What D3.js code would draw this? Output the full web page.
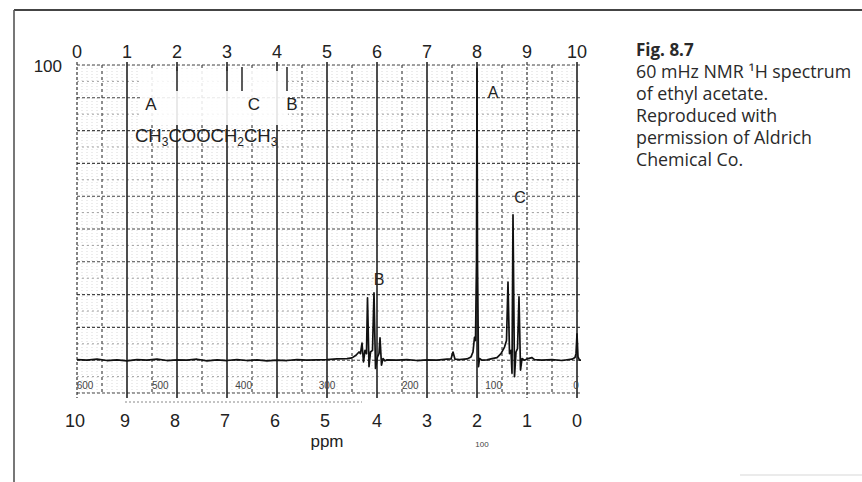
<!DOCTYPE html>
<html>
<head>
<meta charset="utf-8">
<script src="https://d3js.org/d3.v7.min.js"></script>
<style>
	body { margin: 0; background: #fff; }
	svg { display: block; }
	text { font-family: "Liberation Sans", Arial, sans-serif; fill: #222; }
	text.cap, text.fig { font-family: "Open Sans", sans-serif; fill: #2a2a2a; }
</style>
</head>
<body>
<svg id="chart"></svg>
<script type="text/javascript">

	// ---- data ----
	let ppmTicks = [10, 9, 8, 7, 6, 5, 4, 3, 2, 1, 0]
	let topTicks = [0, 1, 2, 3, 4, 5, 6, 7, 8, 9, 10]
	let hzValues = [600, 500, 400, 300, 200, 100, 0]
	let hzLabels = ["600", "500", "400", "300", "200", "100", "0"]

	// spectrum trace: chemical shift (ppm) and intensity (% of full scale)
	let tracePpm = [10.0, 9.8, 9.6, 9.4, 9.2, 9.0, 8.8, 8.6, 8.4, 8.2, 8.0, 7.8, 7.6, 7.4, 7.2, 7.0,
		6.8, 6.6, 6.4, 6.2, 6.0, 5.8, 5.6, 5.4, 5.2, 5.0, 4.8, 4.6, 4.5, 4.42, 4.36,
		4.33, 4.30, 4.27, 4.24, 4.21, 4.19, 4.16, 4.13, 4.09, 4.06, 4.03, 3.99, 3.96, 3.94, 3.91, 3.88, 3.84, 3.8,
		3.6, 3.4, 3.2, 3.0, 2.8, 2.6, 2.52, 2.48, 2.44, 2.35, 2.2, 2.12, 2.08, 2.05, 2.03, 2.01, 2.0, 1.99, 1.97, 1.95,
		1.9, 1.8, 1.7, 1.6, 1.52, 1.45, 1.41, 1.38, 1.35, 1.32, 1.30, 1.28, 1.25, 1.22, 1.19, 1.16, 1.13, 1.1,
		1.05, 1.0, 0.9, 0.85, 0.7, 0.5, 0.3, 0.1, 0.04, 0.02, 0.0, -0.02, -0.05, -0.08]
	let traceInt = [10.2, 10.0, 10.3, 9.9, 10.1, 9.8, 10.2, 10.0, 10.3, 9.9, 10.1, 10.0, 10.3, 9.8, 10.1, 9.9,
		10.2, 9.9, 10.1, 9.8, 10.0, 9.9, 10.2, 10.0, 10.1, 10.2, 10.4, 10.5, 10.7, 11.5, 12.5,
		12.0, 15.2, 9.5, 13.0, 12.0, 29.0, 8.0, 12.5, 13.0, 30.5, 7.5, 11.0, 12.0, 16.8, 8.5, 10.5, 9.8, 10.1,
		10.0, 10.2, 9.9, 10.1, 10.0, 10.3, 10.4, 12.5, 10.3, 10.2, 10.4, 11.0, 12.5, 17.0, 16.0, 40.0, 99.0, 40.0, 8.0, 10.5,
		10.0, 10.1, 10.5, 10.8, 12.0, 14.0, 16.0, 33.8, 12.0, 13.0, 6.0, 54.3, 5.0, 12.5, 13.5, 29.3, 7.0, 10.5,
		10.0, 10.4, 10.8, 10.2, 10.0, 10.2, 9.9, 10.3, 10.8, 12.0, 18.0, 11.0, 10.0, 10.0]

	// peak labels
	let peakText = ["A", "B", "C"]
	let peakPpm = [1.68, 3.96, 1.14]
	let peakVal = [90, 33, 58]

	// structure labels over the formula
	let structText = ["A", "C", "B"]
	let structPpm = [8.52, 6.46, 5.70]
	let structVal = [86.3, 86.3, 86.3]

	let caption = ["60 mHz NMR ¹H spectrum", "of ethyl acetate.", "Reproduced with",
		"permission of Aldrich", "Chemical Co."]

	// ---- sizes ----
	let width = 862
	let height = 482
	let plotLeft = 77
	let plotRight = 577
	let plotTop = 65
	let plotBottom = 393

	let svg = d3.select("#chart")
		.attr("width", width)
		.attr("height", height)

	let x = d3.scaleLinear().domain([10, 0]).range([plotLeft, plotRight])
	let xTop = d3.scaleLinear().domain([0, 10]).range([plotLeft, plotRight])
	let xHz = d3.scaleLinear().domain([600, 0]).range([plotLeft, plotRight])
	let y = d3.scaleLinear().domain([0, 100]).range([plotBottom, plotTop])

	// page frame
	svg.append("line").attr("x1", 14).attr("x2", width).attr("y1", 10).attr("y2", 10)
		.attr("stroke", "#444").attr("stroke-width", 2)
	svg.append("line").attr("x1", 14).attr("x2", 14).attr("y1", 10).attr("y2", height)
		.attr("stroke", "#555").attr("stroke-width", 1.6)
	svg.append("line").attr("x1", 740).attr("x2", width).attr("y1", 475).attr("y2", 475)
		.attr("stroke", "#e4e4e4").attr("stroke-width", 1.5)

	let grid = svg.append("g")

	// fine vertical chart paper lines
	grid.selectAll("line.vfine")
		.data(d3.range(0, 101).map(function(i){ return i / 10 }).filter(function(d){ return Math.round(d * 10) % 5 != 0 }))
		.join("line")
		.attr("class", "vfine")
		.attr("x1", function(d){ return x(d) }).attr("x2", function(d){ return x(d) })
		.attr("y1", plotTop).attr("y2", plotBottom)
		.attr("stroke", "#cfcfcf").attr("stroke-width", 0.8).attr("stroke-dasharray", "1,2")

	// fine horizontal lines
	grid.selectAll("line.hfine")
		.data(d3.range(5, 100, 10))
		.join("line")
		.attr("class", "hfine")
		.attr("x1", plotLeft).attr("x2", plotRight + 3)
		.attr("y1", function(d){ return y(d) }).attr("y2", function(d){ return y(d) })
		.attr("stroke", "#999").attr("stroke-width", 0.9).attr("stroke-dasharray", "2,3")

	// major horizontal lines every 10%
	grid.selectAll("line.hmaj")
		.data(d3.range(0, 101, 10))
		.join("line")
		.attr("class", "hmaj")
		.attr("x1", plotLeft).attr("x2", plotRight + 3)
		.attr("y1", function(d){ return y(d) }).attr("y2", function(d){ return y(d) })
		.attr("stroke", "#444").attr("stroke-width", 1.1).attr("stroke-dasharray", "3,2")

	// half ppm lines, dashed
	grid.selectAll("line.vhalf")
		.data(d3.range(0.5, 10, 1))
		.join("line")
		.attr("class", "vhalf")
		.attr("x1", function(d){ return x(d) }).attr("x2", function(d){ return x(d) })
		.attr("y1", plotTop).attr("y2", plotBottom)
		.attr("stroke", "#444").attr("stroke-width", 1.2).attr("stroke-dasharray", "3,3")

	// whole ppm lines
	grid.selectAll("line.vmaj")
		.data(ppmTicks)
		.join("line")
		.attr("class", "vmaj")
		.attr("x1", function(d){ return x(d) }).attr("x2", function(d){ return x(d) })
		.attr("y1", plotTop - 3).attr("y2", plotBottom + 5)
		.attr("stroke", "#222").attr("stroke-width", function(d){ return d == 10 || d == 1 ? 1.1 : 1.6 })
		.attr("stroke-dasharray", function(d){ return d == 10 || d == 1 ? "3,2" : null })

	// erased patch behind the formula
	svg.append("rect").attr("x", 140).attr("y", 71).attr("width", 148).attr("height", 54)
		.attr("fill", "#fff").attr("opacity", 0.88)

	// short marks of the top scale
	let topMarks = [2, 3, 3.3, 4.2]
	svg.selectAll("line.tmark")
		.data(topMarks)
		.join("line")
		.attr("class", "tmark")
		.attr("x1", function(d){ return xTop(d) }).attr("x2", function(d){ return xTop(d) })
		.attr("y1", plotTop + 2).attr("y2", plotTop + 26)
		.attr("stroke", "#333").attr("stroke-width", 1.6)

	// Hz scale line under the plot
	svg.append("line").attr("x1", 125).attr("x2", 362).attr("y1", 402).attr("y2", 402)
		.attr("stroke", "#888").attr("stroke-width", 1).attr("stroke-dasharray", "2,2")

	// spectrum trace
	let trace = tracePpm.map(function(d, i){ return { ppm: d, v: traceInt[i] } })
	let lineGenerator = d3.line()
		.x(function(d){ return x(d.ppm) })
		.y(function(d){ return y(d.v) })
	svg.append("path")
		.datum(trace)
		.attr("d", lineGenerator)
		.attr("fill", "none")
		.attr("stroke", "#111")
		.attr("stroke-width", 1.7)
		.attr("stroke-linejoin", "round")

	// axes labels
	svg.selectAll("text.top")
		.data(topTicks)
		.join("text")
		.attr("class", "top")
		.attr("x", function(d){ return xTop(d) })
		.attr("y", 58)
		.attr("text-anchor", "middle")
		.style("font-size", "18px")
		.text(function(d){ return d })

	svg.selectAll("text.bottom")
		.data(ppmTicks)
		.join("text")
		.attr("class", "bottom")
		.attr("x", function(d){ return x(d) - (d > 4 ? 2 : 0) })
		.attr("y", 427)
		.attr("text-anchor", "middle")
		.style("font-size", "18px")
		.text(function(d){ return d })

	svg.selectAll("text.hz")
		.data(hzValues)
		.join("text")
		.attr("class", "hz")
		.attr("x", function(d){ return xHz(d) + (d == 600 ? 8 : d == 0 ? -1 : 0) })
		.attr("y", 389)
		.attr("text-anchor", "middle")
		.style("font-size", "10px")
		.style("fill", "#444")
		.text(function(d, i){ return hzLabels[i] })

	svg.append("text").attr("x", x(5)).attr("y", 447).attr("text-anchor", "middle")
		.style("font-size", "17px").text("ppm")
	svg.append("text").attr("x", x(2) + 5).attr("y", 447).attr("text-anchor", "middle")
		.style("font-size", "8px").style("fill", "#444").text("100")
	svg.append("text").attr("x", 62).attr("y", 72).attr("text-anchor", "end")
		.style("font-size", "17px").text("100")

	// peak labels
	svg.selectAll("text.peak")
		.data(peakText)
		.join("text")
		.attr("class", "peak")
		.attr("x", function(d, i){ return x(peakPpm[i]) })
		.attr("y", function(d, i){ return y(peakVal[i]) })
		.attr("text-anchor", "middle")
		.style("font-size", "16px")
		.text(function(d){ return d })

	svg.selectAll("text.struct")
		.data(structText)
		.join("text")
		.attr("class", "struct")
		.attr("x", function(d, i){ return x(structPpm[i]) })
		.attr("y", function(d, i){ return y(structVal[i]) })
		.attr("text-anchor", "middle")
		.style("font-size", "17px")
		.text(function(d){ return d })

	// formula with subscripts
	let formula = svg.append("text")
		.attr("x", x(8.84))
		.attr("y", y(76.5))
		.style("font-size", "18.5px")
	formula.append("tspan").text("CH")
	formula.append("tspan").attr("dy", 4).style("font-size", "12px").text("3")
	formula.append("tspan").attr("dy", -4).text("COOCH")
	formula.append("tspan").attr("dy", 4).style("font-size", "12px").text("2")
	formula.append("tspan").attr("dy", -4).text("CH")
	formula.append("tspan").attr("dy", 4).style("font-size", "12px").text("3")

	// figure caption
	svg.append("text").attr("class", "fig").attr("x", 636).attr("y", 56)
		.style("font-size", "17px").style("font-weight", "bold").text("Fig. 8.7")
	svg.selectAll("text.cap")
		.data(caption)
		.join("text")
		.attr("class", "cap")
		.attr("x", 636)
		.attr("y", function(d, i){ return 78 + i * 22 })
		.style("font-size", "17.8px")
		.text(function(d){ return d })

</script>
</body>
</html>
